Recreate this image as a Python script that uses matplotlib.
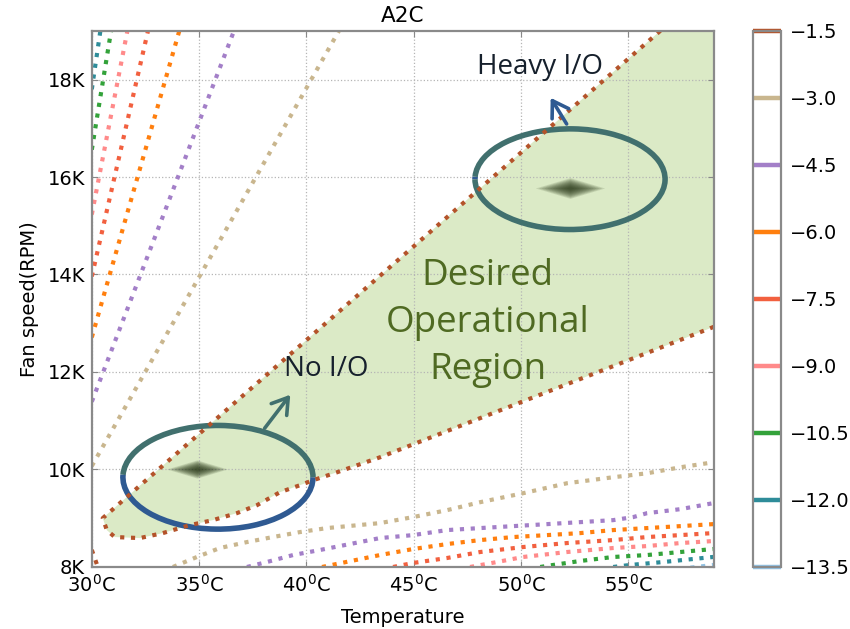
import numpy as np
import matplotlib
matplotlib.use("Agg")
import matplotlib.pyplot as plt
from matplotlib.patches import Arc
from matplotlib.colors import ListedColormap, Normalize
from matplotlib.cm import ScalarMappable

# contour levels and their colours (colorbar order, top to bottom)
levels = [-1.5, -3.0, -4.5, -6.0, -7.5, -9.0, -10.5, -12.0, -13.5]
line_colors = ['#b4532a', '#c9b68e', '#a37fc8', '#ff7f0e', '#f2603f',
               '#ff8a8a', '#33a23a', '#2e8c99', '#93c3e4']

# upper-left branches (temperature C, fan speed RPM), one per level
upper_T = [[], [30.0, 41.52], [30.0, 36.63], [30.0, 34.08], [30.0, 32.62],
           [30.0, 31.66], [30.0, 30.9], [30.0, 30.4], []]
upper_F = [[], [10070, 19000], [11390, 19000], [12710, 19000], [13960, 19000],
           [15230, 19000], [16560, 19000], [17800, 19000], []]

# lower-right branches
lower_T = [
    [30.0, 30.28],
    [33.78, 34.90, 35.97, 37.23, 38.44, 39.70, 40.96, 43.43, 44.97, 46.56,
     48.10, 50.10, 52.15, 54.30, 55.88, 57.43, 58.96],
    [37.23, 38.16, 39.38, 40.63, 43.43, 44.97, 46.56, 48.10, 49.64, 51.22,
     52.76, 54.30, 55.23, 55.88, 57.43, 58.96],
    [40.73, 43.43, 44.97, 46.56, 48.10, 49.64, 51.22, 52.76, 54.30, 55.88,
     57.43, 58.96],
    [44.04, 44.97, 46.56, 48.10, 50.10, 52.15, 54.30, 55.88, 57.43, 58.96],
    [47.63, 48.89, 50.10, 52.15, 54.30, 55.88, 57.43, 58.96],
    [50.90, 51.50, 52.76, 54.30, 55.88, 57.43, 58.96],
    [54.30, 55.09, 56.63, 58.96],
    [57.40, 58.96],
]
lower_F = [
    [8350, 8000],
    [8000, 8205, 8389, 8511, 8614, 8716, 8798, 8900, 9023, 9166,
     9329, 9513, 9718, 9841, 9922, 10045, 10147],
    [8000, 8102, 8245, 8348, 8593, 8654, 8757, 8798, 8838, 8879,
     8920, 8961, 9023, 9104, 9186, 9309],
    [8000, 8245, 8368, 8470, 8552, 8614, 8654, 8695, 8757, 8798,
     8838, 8879],
    [8000, 8082, 8184, 8307, 8409, 8491, 8552, 8614, 8654, 8695],
    [8000, 8102, 8205, 8307, 8389, 8429, 8491, 8532],
    [8000, 8041, 8123, 8205, 8245, 8307, 8368],
    [8000, 8041, 8102, 8205],
    [7960, 8041],
]

# -1.5 contour around the desired region
region_T = [56.5, 30.51, 30.70, 31.07, 32.24, 33.31, 34.57, 35.64, 36.76,
            37.70, 38.77, 39.70, 40.31, 41.43, 43.43, 59.0]
region_F = [19000, 9002, 8757, 8614, 8593, 8695, 8859, 8961, 9104,
            9268, 9534, 9677, 9779, 9943, 10250, 12928]

# dark density peaks
peak_T = [34.9, 52.3]
peak_F = [10000, 15770]

# annotation ellipses (centre T, centre F, width C, height RPM)
ell_T = [35.88, 52.29]
ell_F = [9840, 15955]
ell_w = [8.86, 8.86]
ell_h = [2127, 2065]

xticks = [30, 35, 40, 45, 50, 55]
yticks = [8000, 10000, 12000, 14000, 16000, 18000]

fig = plt.figure(figsize=(8.5, 6.29), dpi=100)
ax = fig.add_axes([0.108, 0.0986, 0.732, 0.8525])
cax = fig.add_axes([0.886, 0.0986, 0.033, 0.8525])

dots = (0, (1, 1.6))
lw_c = 3.0

# green region
ax.fill(region_T + [59.0], region_F + [19000], color='#dbeac6', lw=0, zorder=0.5)

for i, c in enumerate(line_colors):
    if upper_T[i]:
        ax.plot(upper_T[i], upper_F[i], color=c, lw=lw_c, ls=dots,
                dash_capstyle='butt', zorder=2)
    ax.plot(lower_T[i], lower_F[i], color=c, lw=lw_c, ls=dots,
            dash_capstyle='butt', zorder=2)
ax.plot(region_T, region_F, color=line_colors[0], lw=lw_c, ls=dots,
        dash_capstyle='butt', zorder=2.2)

# blurry peaks
diamond = [(-1, 0), (0, 0.3), (1, 0), (0, -0.3), (-1, 0)]
for k, (pt, pf) in enumerate(zip(peak_T, peak_F)):
    big = 44 if k == 0 else 50
    for s in np.linspace(big, 6, 12):
        ax.scatter([pt], [pf], s=s ** 2, marker=diamond, color='#1f2e0f',
                   alpha=0.12, lw=0, zorder=1.8)

# annotation ellipses, two-tone
blue = '#2f5a92'
teal = '#41706e'
arcs = [[(-10, 95, teal), (95, 350, blue)],
        [(95, 195, blue), (195, 455, teal)]]
for k in range(2):
    for t1, t2, c in arcs[k]:
        ax.add_patch(Arc((ell_T[k], ell_F[k]), ell_w[k], ell_h[k],
                         theta1=t1, theta2=t2, color=c, lw=4.0, zorder=1.9))

ax.annotate('', xy=(39.33, 11579), xytext=(37.98, 10802),
            arrowprops=dict(arrowstyle='->,head_length=0.55,head_width=0.35',
                            lw=2.6, color=teal, mutation_scale=20), zorder=3)
ax.annotate('', xy=(51.32, 17673), xytext=(52.20, 17039),
            arrowprops=dict(arrowstyle='->,head_length=0.55,head_width=0.35',
                            lw=2.6, color=blue, mutation_scale=20), zorder=3)

ax.text(40.92, 12055, 'No I/O', fontsize=20, family='Open Sans',
        color='#16202c', ha='center', va='center', zorder=4)
ax.text(50.9, 18265, 'Heavy I/O', fontsize=20, family='Open Sans',
        color='#16202c', ha='center', va='center', zorder=4)
ax.text(48.45, 13000, 'Desired\nOperational\nRegion', fontsize=26.5,
        family='Open Sans', color='#4f6a22', ha='center', va='center',
        linespacing=1.4, zorder=4)

ax.set_xlim(30, 59)
ax.set_ylim(8000, 19000)
ax.set_xticks(xticks)
ax.set_xticklabels([r'%d$^0$C' % t for t in xticks])
ax.set_yticks(yticks)
ax.set_yticklabels(['%dK' % (v // 1000) for v in yticks])
ax.tick_params(direction='in', length=4, width=0.8, labelsize=14,
               top=True, right=True, color='#888888', pad=5)
ax.grid(True, ls=':', color='#b5b5b5', lw=0.9)
for sp in ax.spines.values():
    sp.set_color('#8a8a8a')
    sp.set_linewidth(1.6)
ax.set_title('A2C', fontsize=15.5, pad=6)
ax.set_xlabel('Temperature', fontsize=14, labelpad=9)
ax.set_ylabel('Fan speed(RPM)', fontsize=14, labelpad=6)

# colorbar with contour lines
sm = ScalarMappable(norm=Normalize(levels[-1], levels[0]),
                    cmap=ListedColormap(['white']))
cbar = fig.colorbar(sm, cax=cax, ticks=levels)
cbar.ax.set_yticklabels(['\u2212%.1f' % abs(v) for v in levels])
cbar.add_lines(levels, line_colors, [3.2] * len(levels))
cbar.ax.tick_params(length=0, labelsize=14, pad=6)
cbar.outline.set_edgecolor('#8a8a8a')
cbar.outline.set_linewidth(1.6)

fig.savefig('out.png', dpi=100)
